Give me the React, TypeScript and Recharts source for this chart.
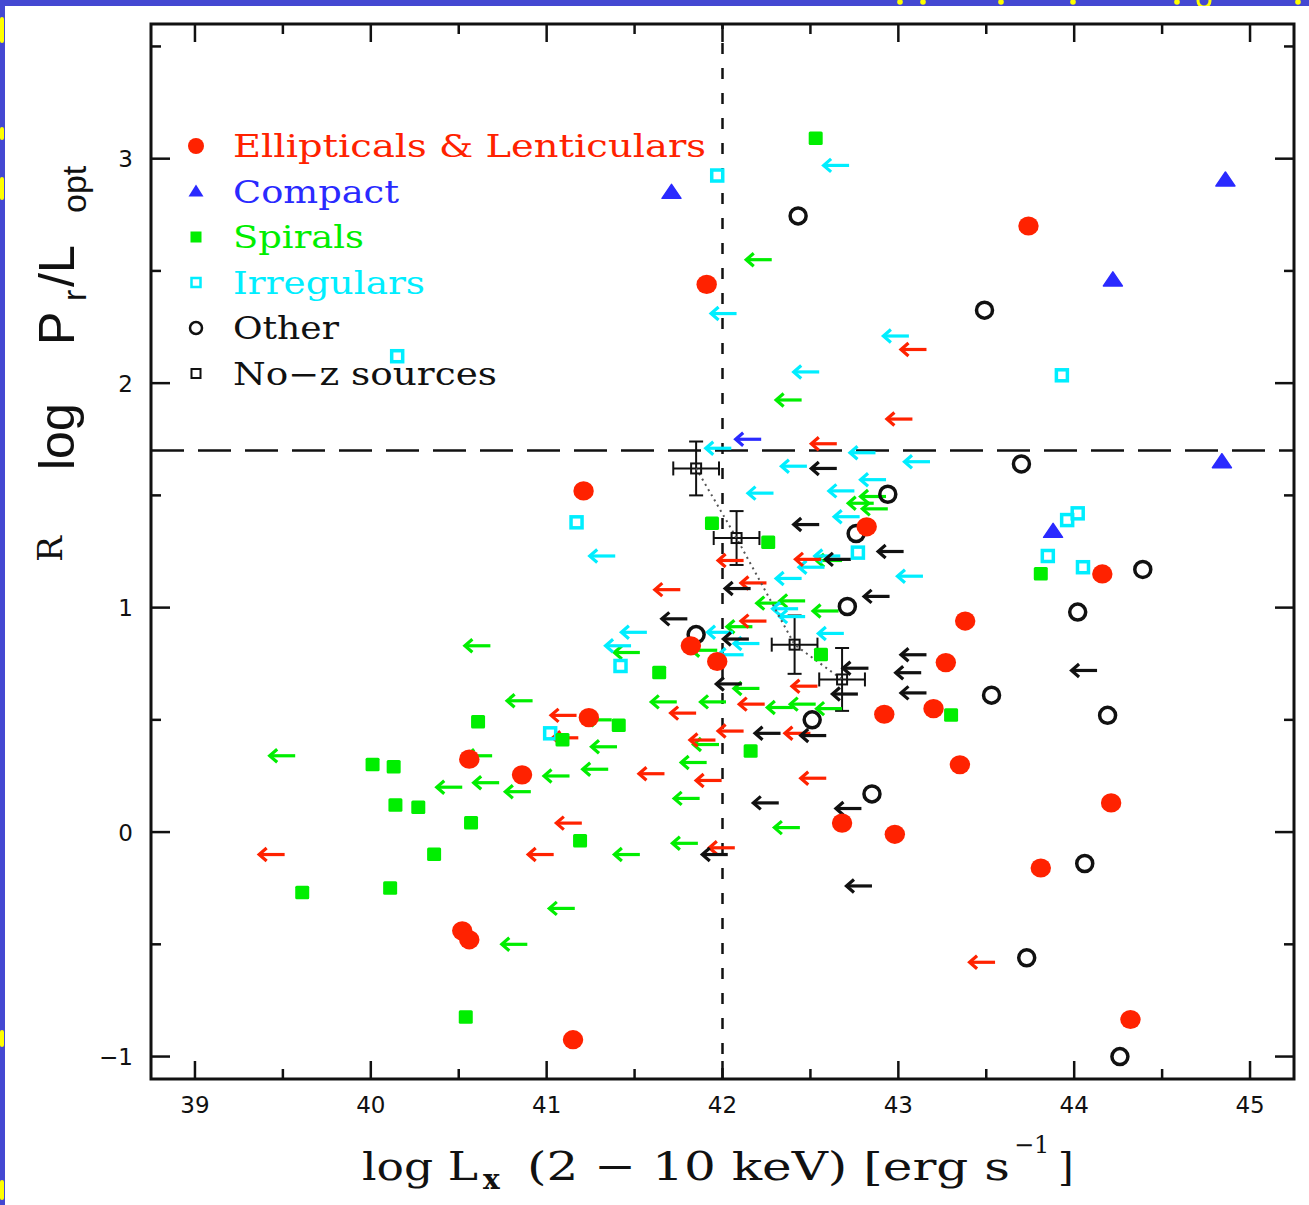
import React from "react";
import { ScatterChart, Scatter, XAxis, YAxis, ReferenceLine, ReferenceArea, ErrorBar } from "recharts";

// ---------- data (log Lx, R) ----------
const ellipticals: [number, number][] = [
  [41.91, 2.44], [43.74, 2.7], [41.21, 1.52], [42.82, 1.36], [44.16, 1.15], [43.38, 0.94],
  [41.82, 0.83], [41.97, 0.76], [43.27, 0.755], [41.24, 0.51], [42.92, 0.525], [43.2, 0.55],
  [40.56, 0.325], [40.86, 0.255], [43.35, 0.3], [44.21, 0.13], [42.68, 0.04], [42.98, -0.01],
  [43.81, -0.16], [40.52, -0.44], [40.56, -0.48], [41.15, -0.925], [44.32, -0.835],
];
const compact: [number, number][] = [
  [41.71, 2.85], [44.86, 2.905], [44.22, 2.46], [43.88, 1.34], [44.84, 1.65],
];
const spirals: [number, number][] = [
  [42.53, 3.09], [41.94, 1.375], [42.26, 1.29], [43.81, 1.15], [41.64, 0.71], [42.56, 0.79],
  [43.3, 0.52], [41.41, 0.475], [40.61, 0.49], [41.09, 0.41], [42.16, 0.36], [40.01, 0.3],
  [40.13, 0.29], [40.14, 0.12], [40.27, 0.11], [40.57, 0.04], [41.19, -0.04], [40.36, -0.1],
  [39.61, -0.27], [40.11, -0.25], [40.54, -0.825],
];
const irregulars: [number, number][] = [
  [41.97, 2.925], [40.15, 2.12], [43.93, 2.035], [41.17, 1.38], [42.77, 1.245], [44.02, 1.42],
  [43.96, 1.39], [43.85, 1.23], [44.05, 1.18], [41.42, 0.74], [41.02, 0.44],
];
const others: [number, number][] = [
  [42.43, 2.745], [43.49, 2.325], [43.7, 1.64], [42.94, 1.505], [42.76, 1.33], [44.39, 1.17],
  [44.02, 0.98], [42.71, 1.005], [41.85, 0.88], [43.53, 0.61], [44.19, 0.52], [42.51, 0.5],
  [42.85, 0.17], [44.06, -0.14], [43.73, -0.56], [44.26, -1.0],
];
// upper limits in Lx (arrow tail = limit value)
const redLimits: [number, number][] = [
  [43.16, 2.15], [43.08, 1.84], [42.65, 1.73], [42.12, 1.21], [42.56, 1.215], [41.76, 1.08],
  [42.25, 1.11], [42.25, 0.94], [42.54, 0.65], [41.85, 0.53], [42.24, 0.57], [41.17, 0.52],
  [41.18, 0.42], [42.12, 0.45], [42.5, 0.44], [41.96, 0.41], [41.67, 0.26], [41.995, 0.23],
  [42.59, 0.24], [42.07, -0.07], [41.2, 0.04], [39.51, -0.1], [41.04, -0.1], [43.55, -0.58],
];
const greenLimits: [number, number][] = [
  [42.28, 2.55], [42.45, 1.925], [42.86, 1.465], [42.93, 1.495], [42.94, 1.44], [42.68, 1.21],
  [42.34, 1.02], [42.47, 1.03], [42.66, 0.985], [42.17, 0.915], [41.97, 0.81], [41.53, 0.8],
  [42.21, 0.64], [41.74, 0.58], [42.02, 0.58], [42.4, 0.555], [42.53, 0.57], [42.68, 0.55],
  [40.68, 0.83], [40.92, 0.585], [41.98, 0.39], [41.4, 0.38], [41.91, 0.31], [41.35, 0.28],
  [39.57, 0.34], [40.69, 0.34], [41.13, 0.25], [40.52, 0.2], [40.73, 0.22], [40.91, 0.18],
  [41.87, 0.15], [42.44, 0.02], [41.86, -0.05], [41.53, -0.1], [41.16, -0.34], [40.89, -0.5],
  [41.37, 0.5],
];
const cyanLimits: [number, number][] = [
  [42.72, 2.97], [42.08, 2.31], [43.06, 2.21], [42.55, 2.05], [42.05, 1.71], [42.87, 1.69],
  [43.18, 1.65], [42.48, 1.63], [42.29, 1.51], [42.93, 1.57], [42.75, 1.52], [42.78, 1.405],
  [41.39, 1.23], [42.67, 1.23], [42.58, 1.18], [43.14, 1.14], [42.45, 1.13], [42.43, 0.995],
  [42.47, 0.96], [41.57, 0.89], [41.48, 0.83], [42.06, 0.89], [42.21, 0.84], [42.12, 0.79],
  [42.69, 0.885],
];
const blueLimits: [number, number][] = [[42.22, 1.75]];
const blackLimits: [number, number][] = [
  [42.65, 1.62], [42.55, 1.37], [43.03, 1.25], [42.73, 1.215], [42.16, 1.085], [42.95, 1.05],
  [41.8, 0.95], [42.15, 0.86], [43.16, 0.79], [43.13, 0.71], [42.83, 0.73], [42.77, 0.615],
  [43.16, 0.62], [42.11, 0.66], [42.33, 0.44], [42.59, 0.43], [42.32, 0.13], [42.79, 0.105],
  [42.03, -0.1], [42.85, -0.24], [44.13, 0.72],
];
// No-z sources: [x, y, xerr, yerr]
const noZ: [number, number, number, number][] = [
  [41.85, 1.62, 0.13, 0.12], [42.08, 1.31, 0.13, 0.12], [42.41, 0.835, 0.13, 0.13], [42.68, 0.68, 0.13, 0.14],
];

const xTicks = [39, 39.5, 40, 40.5, 41, 41.5, 42, 42.5, 43, 43.5, 44, 44.5, 45];
const yTicks = [-1, -0.5, 0, 0.5, 1, 1.5, 2, 2.5, 3, 3.5];
const X_DOMAIN: [number, number] = [38.75, 45.25];
const Y_DOMAIN: [number, number] = [-1.1, 3.6];
const LX_CUT = 42;
const R_CUT = 1.7;

const legendItems = [
  { label: "Ellipticals & Lenticulars", kind: "ell", len: 473 },
  { label: "Compact", kind: "cmp", len: 166 },
  { label: "Spirals", kind: "spi", len: 131 },
  { label: "Irregulars", kind: "irr", len: 192 },
  { label: "Other", kind: "oth", len: 106 },
  { label: "No\u2212z sources", kind: "noz", len: 264 },
];

// ---------- styling ----------
const RED = "#ff2200";
const BLUE = "#2a2aff";
const GREEN = "#00ee00";
const CYAN = "#00eeff";
const INK = "#111";
const BORDER = "#4448d2";
const YELLOW = "#ffff00";
const W = 1309;
const H = 1205;
const PLOT = { left: 151, top: 24, right: 1294, bottom: 1079 };
// fragments of slide text peeking into the frame border (decoration)
const topSpecks = [900, 923, 1001, 1073, 1177, 1298];
const leftSpecks: [number, number][] = [[17, 43], [127, 140], [177, 200], [1030, 1047], [1180, 1200]];

const toPts = (a: [number, number][]) => a.map(([x, y]) => ({ x, y }));

const Arrow = (color: string) => (p: any) => {
  const { cx, cy } = p;
  const L = 26;
  const hx = cx - L;
  return (
    <g stroke={color} strokeWidth={3.2} fill="none">
      <line x1={cx} y1={cy} x2={hx + 1.5} y2={cy} />
      <polyline points={`${hx + 8},${cy - 6.5} ${hx + 0.5},${cy} ${hx + 8},${cy + 6.5}`} strokeLinejoin="miter" />
    </g>
  );
};
const Dot = (p: any) => <ellipse cx={p.cx} cy={p.cy} rx={10.2} ry={9.6} fill={RED} />;
const Tri = (p: any) => (
  <polygon points={`${p.cx},${p.cy - 8} ${p.cx - 9.5},${p.cy + 6} ${p.cx + 9.5},${p.cy + 6}`} fill={BLUE} stroke={BLUE} strokeWidth={1.5} strokeLinejoin="round" />
);
const FSq = (p: any) => <rect x={p.cx - 7} y={p.cy - 7} width={14} height={13.5} rx={1.5} fill={GREEN} />;
const OSq = (p: any) => <rect x={p.cx - 5.5} y={p.cy - 5.5} width={11} height={11} fill="none" stroke={CYAN} strokeWidth={3.5} />;
const OCirc = (p: any) => <circle cx={p.cx} cy={p.cy} r={8} fill="none" stroke={INK} strokeWidth={3.5} />;
const NzSq = (p: any) => <rect x={p.cx - 5} y={p.cy - 5} width={10} height={10} fill="none" stroke={INK} strokeWidth={2} />;

const TICK_FONT = "DejaVu Sans, Liberation Sans, sans-serif";

const XTick = (p: any) => {
  const { x, payload } = p;
  const v = payload.value;
  const major = Number.isInteger(v);
  const len = major ? 18 : 10;
  return (
    <g>
      <line x1={x} x2={x} y1={PLOT.bottom} y2={PLOT.bottom - len} stroke={INK} strokeWidth={2.5} />
      <line x1={x} x2={x} y1={PLOT.top} y2={PLOT.top + len} stroke={INK} strokeWidth={2.5} />
      {major && (
        <text x={x} y={1113} textAnchor="middle" fontFamily={TICK_FONT} fontSize={23} fill={INK}>
          {v}
        </text>
      )}
    </g>
  );
};
const YTick = (p: any) => {
  const { y, payload } = p;
  const v = payload.value;
  const major = Number.isInteger(v);
  const len = major ? 19 : 10;
  return (
    <g>
      <line x1={PLOT.left} x2={PLOT.left + len} y1={y} y2={y} stroke={INK} strokeWidth={2.5} />
      <line x1={PLOT.right} x2={PLOT.right - len} y1={y} y2={y} stroke={INK} strokeWidth={2.5} />
      {major && (
        <text x={133} y={y + 8.5} textAnchor="end" fontFamily={TICK_FONT} fontSize={23} fill={INK}>
          {v < 0 ? `\u2212${Math.abs(v)}` : v}
        </text>
      )}
    </g>
  );
};

const LegendMarker = ({ kind, cx, cy }: { kind: string; cx: number; cy: number }) => {
  switch (kind) {
    case "ell":
      return <circle cx={cx} cy={cy} r={8} fill={RED} />;
    case "cmp":
      return <polygon points={`${cx},${cy - 7} ${cx - 7.5},${cy + 5} ${cx + 7.5},${cy + 5}`} fill={BLUE} />;
    case "spi":
      return <rect x={cx - 5.5} y={cy - 5.5} width={11} height={11} fill={GREEN} />;
    case "irr":
      return <rect x={cx - 4.5} y={cy - 4.5} width={9} height={9} fill="none" stroke={CYAN} strokeWidth={2.5} />;
    case "oth":
      return <circle cx={cx} cy={cy} r={6} fill="none" stroke={INK} strokeWidth={2.5} />;
    default:
      return <rect x={cx - 4.5} y={cy - 4.5} width={9} height={9} fill="none" stroke={INK} strokeWidth={2} />;
  }
};
const legendColor: Record<string, string> = { ell: RED, cmp: BLUE, spi: GREEN, irr: CYAN, oth: INK, noz: INK };

export default function App() {
  const serif = "DejaVu Serif, Liberation Serif, serif";
  const sans = "Liberation Sans, Arial, sans-serif";
  return (
    <div style={{ position: "absolute", left: 0, top: 0, width: W, height: H, background: BORDER, overflow: "hidden" }}>
      <svg width={W} height={H} style={{ position: "absolute", left: 0, top: 0 }}>
        {topSpecks.map((x) => (
          <circle key={x} cx={x} cy={2} r={2.8} fill={YELLOW} />
        ))}
        <circle cx={1204} cy={1} r={6} fill="none" stroke={YELLOW} strokeWidth={3} />
        {leftSpecks.map(([a, b]) => (
          <rect key={a} x={0} y={a} width={4} height={b - a} rx={2} fill={YELLOW} />
        ))}
      </svg>
      <div style={{ position: "absolute", left: 5, top: 6, width: W - 5, height: H - 6, background: "#fff" }} />
      <div style={{ position: "absolute", left: 0, top: 0 }}>
        <ScatterChart width={W} height={H} margin={{ top: 24, right: 15, bottom: 66, left: 51 }}>
          <XAxis
            type="number"
            dataKey="x"
            domain={X_DOMAIN}
            ticks={xTicks}
            interval={0}
            allowDataOverflow
            axisLine={false}
            tickLine={false}
            tick={XTick}
            height={60}
          />
          <YAxis
            type="number"
            dataKey="y"
            domain={Y_DOMAIN}
            ticks={yTicks}
            interval={0}
            allowDataOverflow
            axisLine={false}
            tickLine={false}
            tick={YTick}
            width={100}
          />
          <ReferenceArea x1={X_DOMAIN[0]} x2={X_DOMAIN[1]} y1={Y_DOMAIN[0]} y2={Y_DOMAIN[1]} fill="none" fillOpacity={0} stroke={INK} strokeWidth={3} ifOverflow="extendDomain" />
          <ReferenceLine x={LX_CUT} stroke={INK} strokeWidth={2.5} strokeDasharray="11 14" />
          <ReferenceLine y={R_CUT} stroke={INK} strokeWidth={2.5} strokeDasharray="33 14" />
          <Scatter data={toPts(greenLimits)} shape={Arrow(GREEN)} isAnimationActive={false} />
          <Scatter data={toPts(cyanLimits)} shape={Arrow(CYAN)} isAnimationActive={false} />
          <Scatter data={toPts(redLimits)} shape={Arrow(RED)} isAnimationActive={false} />
          <Scatter data={toPts(blackLimits)} shape={Arrow(INK)} isAnimationActive={false} />
          <Scatter data={toPts(blueLimits)} shape={Arrow(BLUE)} isAnimationActive={false} />
          <Scatter
            data={noZ.map(([x, y, ex, ey]) => ({ x, y, ex, ey }))}
            shape={NzSq}
            fill={INK}
            line={{ stroke: "#555", strokeWidth: 2, strokeDasharray: "2 4" }}
            isAnimationActive={false}
          >
            <ErrorBar dataKey="ex" direction="x" width={7} stroke={INK} strokeWidth={2} />
            <ErrorBar dataKey="ey" direction="y" width={7} stroke={INK} strokeWidth={2} />
          </Scatter>
          <Scatter data={toPts(irregulars)} shape={OSq} isAnimationActive={false} />
          <Scatter data={toPts(spirals)} shape={FSq} isAnimationActive={false} />
          <Scatter data={toPts(others)} shape={OCirc} isAnimationActive={false} />
          <Scatter data={toPts(compact)} shape={Tri} isAnimationActive={false} />
          <Scatter data={toPts(ellipticals)} shape={Dot} isAnimationActive={false} />
        </ScatterChart>
      </div>
      <svg width={W} height={H} style={{ position: "absolute", left: 0, top: 0, pointerEvents: "none" }}>
        {/* legend */}
        {legendItems.map((it, i) => {
          const cy = 146 + i * 45.5;
          return (
            <g key={it.kind}>
              <LegendMarker kind={it.kind} cx={196} cy={cy} />
              <text x={233} y={cy + 11} fontFamily={serif} fontSize={31} fill={legendColor[it.kind]} textLength={it.len} lengthAdjust="spacingAndGlyphs">
                {it.label}
              </text>
            </g>
          );
        })}
        {/* x label */}
        <g fontFamily={serif} fill={INK}>
          <text x={362} y={1180} fontSize={40} textLength={116} lengthAdjust="spacingAndGlyphs">log L</text>
          <text x={483} y={1189} fontSize={28} fontWeight="bold">x</text>
          <text x={527} y={1180} fontSize={40} textLength={483} lengthAdjust="spacingAndGlyphs">(2 {"\u2212"} 10 keV) [erg s</text>
          <text x={1014} y={1153} fontSize={24}>{"\u2212"}1</text>
          <text x={1058} y={1180} fontSize={40}>]</text>
        </g>
        {/* y label */}
        <g transform="rotate(-90)" fill={INK}>
          <text x={-470} y={74} fontFamily={sans} fontSize={50}>log</text>
          <text x={-345} y={74} fontFamily={sans} fontSize={50}>P</text>
          <text x={-301} y={86} fontFamily={sans} fontSize={34}>r</text>
          <text x={-287} y={74} fontFamily={sans} fontSize={50}>/L</text>
          <text x={-213} y={86} fontFamily={sans} fontSize={34}>opt</text>
          <text x={-549} y={62} fontFamily={serif} fontSize={34} textAnchor="middle">R</text>
        </g>
      </svg>
    </div>
  );
}
